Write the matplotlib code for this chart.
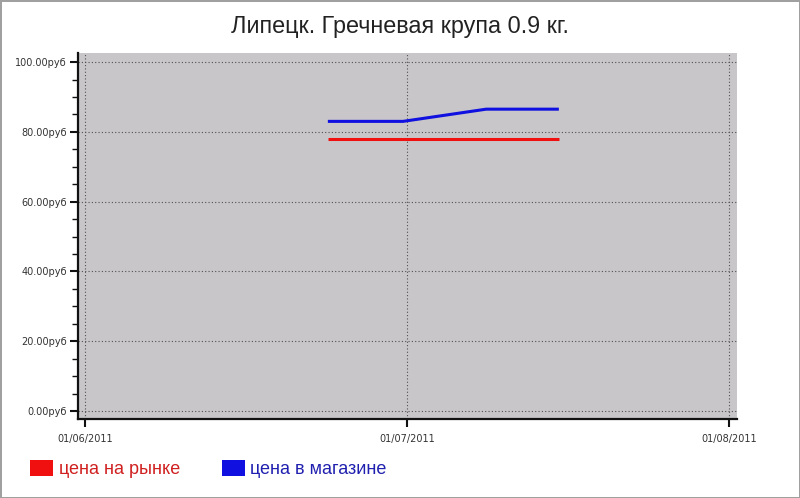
import calendar
from datetime import datetime

import matplotlib
matplotlib.use("Agg")
import matplotlib.pyplot as plt
from matplotlib.patches import Patch
from matplotlib.ticker import MultipleLocator, FuncFormatter

# data
dates = ["2011-06-23 15:00", "2011-06-30 15:00", "2011-07-08 15:00", "2011-07-15 15:00"]
market_price = [78.0, 78.0, 78.0, 78.0]
shop_price = [83.0, 83.0, 86.5, 86.5]
month_ticks = ["01/06/2011", "01/07/2011", "01/08/2011"]
series_names = ["цена на рынке", "цена в магазине"]
title = "Липецк. Гречневая крупа 0.9 кг."


# the source chart spaces every month equally, so x is "months since 01/06/2011"
def month_pos(s):
    d = datetime.strptime(s, "%Y-%m-%d %H:%M")
    ndays = calendar.monthrange(d.year, d.month)[1]
    frac = (d.day - 1 + d.hour / 24) / ndays
    return (d.year - 2011) * 12 + (d.month - 6) + frac


x = [month_pos(s) for s in dates]

fig = plt.figure(figsize=(8, 4.98), dpi=100)
fig.patch.set_facecolor("white")
fig.patch.set_edgecolor("#a0a0a0")
fig.patch.set_linewidth(2)

ax = fig.add_axes([0.0975, 0.1586, 0.8237, 0.735])
ax.set_facecolor("#c8c6c9")

ax.plot(x, market_price, color="#f01010", lw=2.2, solid_capstyle="butt")
ax.plot(x, shop_price, color="#1010e0", lw=2.2, solid_capstyle="butt")

ax.set_xlim(-0.022, 2.025)
ax.set_ylim(-2.3, 102.6)

ax.set_xticks(range(len(month_ticks)))
ax.set_xticklabels(month_ticks)
ax.yaxis.set_major_locator(MultipleLocator(20))
ax.yaxis.set_minor_locator(MultipleLocator(5))
ax.yaxis.set_major_formatter(FuncFormatter(lambda v, p: f"{v:.2f}руб"))

ax.grid(True, which="major", color="#505050", linestyle=(0, (1, 2)), lw=0.8)

for side in ["top", "right"]:
    ax.spines[side].set_visible(False)
for side in ["left", "bottom"]:
    ax.spines[side].set_linewidth(1.6)
    ax.spines[side].set_color("#111111")

ax.tick_params(axis="both", which="major", length=6, width=1.5, color="#111111",
               labelsize=7, labelcolor="#333333", pad=2)
ax.tick_params(axis="y", which="minor", length=4, width=1, color="#111111")
ax.tick_params(axis="x", pad=5)

fig.text(0.5, 0.947, title, ha="center", va="center", fontsize=16.8,
         family="Liberation Sans", color="#222222")

handles = [Patch(facecolor="#f01010", edgecolor="none"),
           Patch(facecolor="#1010e0", edgecolor="none")]
leg = fig.legend(handles, series_names, loc="center left", bbox_to_anchor=(0.017, 0.058),
                 ncol=2, frameon=False, handlelength=1.3, handleheight=1.0,
                 handletextpad=0.3, columnspacing=2.3,
                 prop={"family": "Liberation Sans", "size": 13})
leg.get_texts()[0].set_color("#d02020")
leg.get_texts()[1].set_color("#2020b0")

fig.savefig("out.png", dpi=100, facecolor=fig.get_facecolor(), edgecolor=fig.get_edgecolor())
